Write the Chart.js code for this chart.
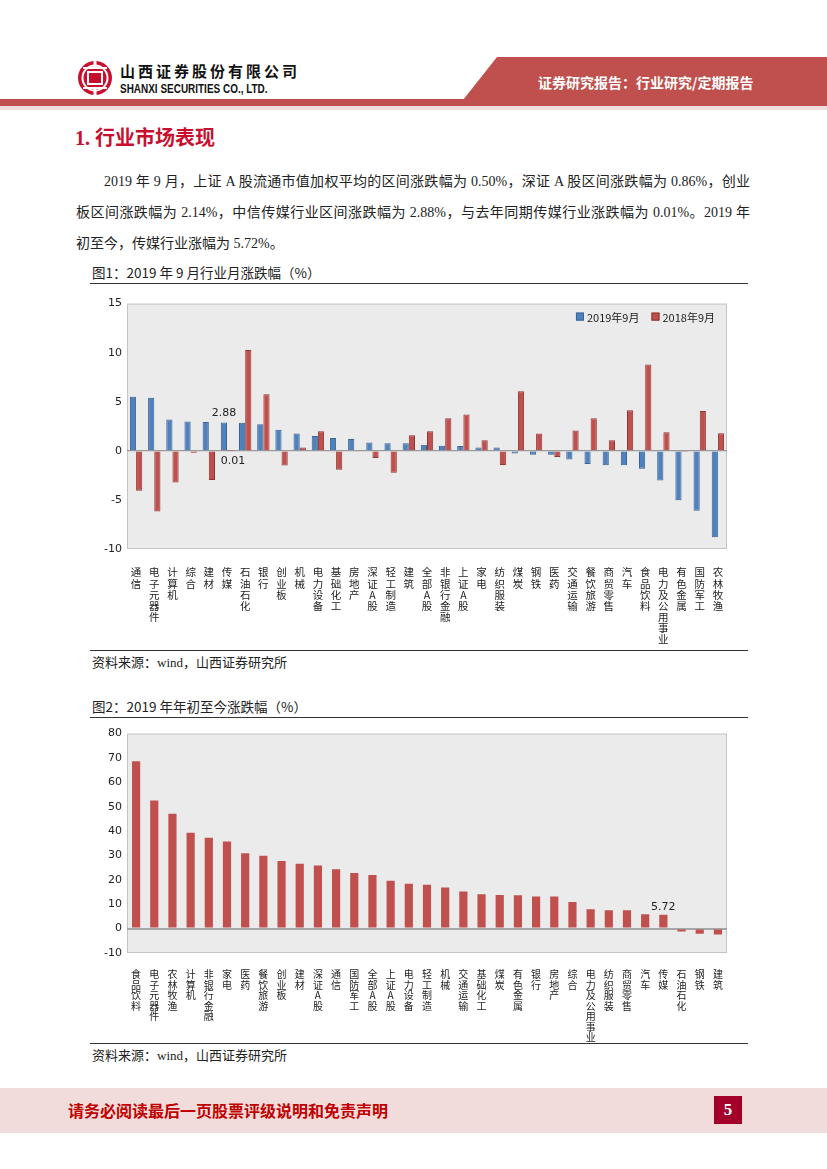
<!DOCTYPE html>
<html>
<head>
<meta charset="utf-8">
<title>行业市场表现</title>
<script src="https://cdn.jsdelivr.net/npm/chart.js"></script>
<style>
    body {
        margin: 0;
        padding: 0;
        background: #fff;
        font-family: "Liberation Serif", "Noto Sans CJK SC", serif;
        color: #222;
    }
    .page {
        position: relative;
        width: 827px;
        height: 1169px;
        overflow: hidden;
    }
    .abs { position: absolute; }
    .logo-cn {
        left: 120px; top: 62px;
        font-family: "Noto Sans CJK SC", sans-serif;
        font-weight: bold; font-size: 15px; letter-spacing: 3px;
        line-height: 18px; color: #111;
    }
    .logo-en {
        left: 120px; top: 82px;
        font-family: "Liberation Sans", Arial, sans-serif;
        font-weight: bold; font-size: 12px; line-height: 14px; color: #111;
        transform: scaleX(0.83); transform-origin: left center;
        white-space: nowrap;
    }
    .banner-text {
        left: 538px; top: 72px;
        font-family: "Noto Sans CJK SC", sans-serif;
        font-weight: bold; font-size: 14px; line-height: 20px; color: #fff;
        white-space: nowrap;
    }
    h1 {
        position: absolute; margin: 0;
        left: 75px; top: 125px;
        font-family: "Liberation Serif", "Noto Sans CJK SC", serif;
        font-size: 20px; line-height: 26px; font-weight: bold;
        color: #c8102e;
    }
    .para {
        left: 76px; width: 674px;
        font-size: 14px; line-height: 31px; white-space: nowrap;
    }
    .para .j { text-align: justify; text-align-last: justify; white-space: normal; }
    .fig-title {
        left: 92px; font-family: "Noto Sans CJK SC", sans-serif;
        font-size: 13.5px; line-height: 18px; white-space: nowrap;
    }
    .rule { left: 90px; width: 658px; height: 0; border-top: 1.5px solid #333; }
    .source { left: 92px; font-size: 13px; line-height: 18px; white-space: nowrap; }
    canvas { position: absolute; }
    .footer {
        left: 0; top: 1088px; width: 827px; height: 45px; background: #f2dcdb;
    }
    .footer-text {
        left: 68px; top: 1100px;
        font-family: "Noto Sans CJK SC", sans-serif;
        font-weight: bold; font-size: 16px; line-height: 20px; color: #c00000;
        white-space: nowrap;
    }
    .pageno {
        left: 714px; top: 1096px; width: 28px; height: 28px;
        background: #a3002a; color: #fff; text-align: center;
        font-family: "Liberation Serif", serif; font-weight: bold;
        font-size: 17px; line-height: 28px;
    }
</style>
</head>
<body>
<div class="page">
    <!-- header -->
    <svg class="abs" style="left:0;top:0" width="827" height="112">
        <polygon points="497,57 827,57 827,100 463,100" fill="#c0504d"/>
        <rect x="0" y="99" width="827" height="7" fill="#c0504d"/>
        <rect x="0" y="106" width="827" height="4" fill="#f2dcdb"/>
        <circle cx="95" cy="78" r="17" fill="#c8102e"/>
        <circle cx="95" cy="78" r="12.5" fill="none" stroke="#fff" stroke-width="2"/>
        <rect x="93.5" y="60" width="3" height="8" fill="#fff"/>
        <rect x="93.5" y="88" width="3" height="8" fill="#fff"/>
        <rect x="88" y="72" width="14" height="12" fill="none" stroke="#fff" stroke-width="2"/>
        <rect x="83" y="67" width="24" height="2" fill="#fff"/>
        <rect x="83" y="87" width="24" height="2" fill="#fff"/>
    </svg>
    <div class="abs logo-cn">山西证券股份有限公司</div>
    <div class="abs logo-en">SHANXI SECURITIES CO., LTD.</div>
    <div class="abs banner-text">证券研究报告：行业研究/定期报告</div>

    <h1>1. 行业市场表现</h1>

    <div class="abs para" style="top:166px">
        <div class="j" style="text-indent:28px">2019 年 9 月，上证 A 股流通市值加权平均的区间涨跌幅为 0.50%，深证 A 股区间涨跌幅为 0.86%，创业</div>
        <div class="j">板区间涨跌幅为 2.14%，中信传媒行业区间涨跌幅为 2.88%，与去年同期传媒行业涨跌幅为 0.01%。2019 年</div>
        <div>初至今，传媒行业涨幅为 5.72%。</div>
    </div>

    <div class="abs fig-title" style="top:263px">图1：2019 年 9 月行业月涨跌幅（%）</div>
    <div class="abs rule" style="top:283px"></div>
    <canvas id="monthChart" width="650" height="355" style="left:90px;top:292px"></canvas>
    <div class="abs rule" style="top:650px"></div>
    <div class="abs source" style="top:654px">资料来源：wind，山西证券研究所</div>

    <div class="abs fig-title" style="top:697px">图2：2019 年年初至今涨跌幅（%）</div>
    <div class="abs rule" style="top:717px"></div>
    <canvas id="ytdChart" width="650" height="320" style="left:90px;top:722px"></canvas>
    <div class="abs rule" style="top:1043px"></div>
    <div class="abs source" style="top:1047px">资料来源：wind，山西证券研究所</div>

    <div class="abs footer"></div>
    <div class="abs footer-text">请务必阅读最后一页股票评级说明和免责声明</div>
    <div class="abs pageno">5</div>
</div>

<script>
    // 图1：9月行业月涨跌幅
    const monthCats = ['通信', '电子元器件', '计算机', '综合', '建材', '传媒', '石油石化', '银行', '创业板', '机械',
        '电力设备', '基础化工', '房地产', '深证A股', '轻工制造', '建筑', '全部A股', '非银行金融', '上证A股', '家电',
        '纺织服装', '煤炭', '钢铁', '医药', '交通运输', '餐饮旅游', '商贸零售', '汽车', '食品饮料', '电力及公用事业',
        '有色金属', '国防军工', '农林牧渔'];
    const sep2019 = [5.5, 5.4, 3.2, 3.0, 2.93, 2.88, 2.85, 2.7, 2.14, 1.77,
        1.5, 1.3, 1.2, 0.86, 0.77, 0.77, 0.63, 0.53, 0.50, 0.33,
        0.33, -0.27, -0.4, -0.4, -0.87, -1.33, -1.47, -1.47, -1.83, -3.03,
        -5.03, -6.1, -8.8];
    const sep2018 = [-4.07, -6.17, -3.23, -0.2, -2.97, 0.01, 10.27, 5.77, -1.5, 0.33,
        2.0, -1.93, -0.1, -0.73, -2.23, 1.6, 2.0, 3.33, 3.7, 1.07,
        -1.43, 6.07, 1.77, -0.63, 2.07, 3.33, 1.07, 4.13, 8.8, 1.9,
        -0.13, 4.07, 1.8];
    const monthTicks = { min: -10, max: 15, step: 5 };

    // 图2：年初至今涨跌幅
    const ytdCats = ['食品饮料', '电子元器件', '农林牧渔', '计算机', '非银行金融', '家电', '医药', '餐饮旅游', '创业板', '建材',
        '深证A股', '通信', '国防军工', '全部A股', '上证A股', '电力设备', '轻工制造', '机械', '交通运输', '基础化工',
        '煤炭', '有色金属', '银行', '房地产', '综合', '电力及公用事业', '纺织服装', '商贸零售', '汽车', '传媒',
        '石油石化', '钢铁', '建筑'];
    const ytd2019 = [68.7, 52.6, 47.1, 39.3, 37.3, 35.7, 30.9, 29.9, 27.7, 26.6,
        25.9, 24.4, 22.8, 22.0, 19.6, 18.4, 18.0, 16.9, 15.2, 14.1,
        13.8, 13.7, 13.2, 13.2, 10.9, 7.9, 7.5, 7.5, 5.9, 5.72,
        -1.2, -2.1, -2.4];
    const ytdTicks = { min: -10, max: 80, step: 10 };

    // vertical labels, one character per line
    const stack = s => Array.from(s);

    const plotBg = {
        id: 'plotBg',
        beforeDraw(chart) {
            const a = chart.chartArea, c = chart.ctx;
            c.save();
            c.fillStyle = '#ebebeb';
            c.fillRect(a.left, a.top, a.right - a.left, a.bottom - a.top);
            c.strokeStyle = '#c4c4c4';
            c.lineWidth = 1;
            c.strokeRect(a.left + 0.5, a.top + 0.5, a.right - a.left - 1, a.bottom - a.top - 1);
            c.restore();
        }
    };

    // legend inside the plot, top right
    const innerLegend = {
        id: 'innerLegend',
        afterDraw(chart) {
            const a = chart.chartArea, c = chart.ctx;
            const y = a.top + 13;
            let x = a.right - 12;
            c.save();
            c.font = '11px "Noto Sans CJK SC"';
            c.textBaseline = 'middle';
            c.textAlign = 'left';
            const sets = chart.data.datasets.slice().reverse();
            sets.forEach(ds => {
                const w = c.measureText(ds.label).width;
                x -= w;
                c.fillStyle = '#222';
                c.fillText(ds.label, x, y + 1);
                x -= 11;
                c.fillStyle = ds.backgroundColor;
                c.fillRect(x, y - 4, 8, 8);
                c.strokeStyle = ds.borderColor;
                c.lineWidth = 1;
                c.strokeRect(x + 0.5, y - 3.5, 7, 7);
                x -= 12;
            });
            c.restore();
        }
    };

    // value labels, e.g. 传媒
    function valueLabels(list) {
        return {
            id: 'valueLabels',
            afterDatasetsDraw(chart) {
                const c = chart.ctx;
                c.save();
                c.font = '11px "DejaVu Sans"';
                c.fillStyle = '#222';
                c.textAlign = 'center';
                c.textBaseline = 'middle';
                list.forEach(l => {
                    const bar = chart.getDatasetMeta(l.ds).data[l.i];
                    c.fillText(l.text, bar.x + l.dx, bar.y + l.dy);
                });
                c.restore();
            }
        };
    }

    const tickFont = { family: '"DejaVu Sans"', size: 11 };

    new Chart(document.getElementById('monthChart'), {
        type: 'bar',
        data: {
            labels: monthCats.map(stack),
            datasets: [
                { label: '2019年9月', data: sep2019, backgroundColor: '#4f81bd', borderColor: '#3a6494', borderWidth: 1,
                  categoryPercentage: 0.68, barPercentage: 1.0 },
                { label: '2018年9月', data: sep2018, backgroundColor: '#c0504d', borderColor: '#8e3532', borderWidth: 1,
                  categoryPercentage: 0.68, barPercentage: 1.0 }
            ]
        },
        options: {
            responsive: false,
            animation: false,
            layout: { padding: { top: 7, right: 13, left: 0, bottom: 0 } },
            plugins: { legend: { display: false }, tooltip: { enabled: false } },
            scales: {
                x: {
                    grid: { display: false },
                    border: { display: false },
                    ticks: { autoSkip: false, maxRotation: 0, minRotation: 0, padding: 10, color: '#222',
                             font: { family: '"Noto Sans CJK SC"', size: 10.5, lineHeight: 1.05 } },
                    afterFit: s => { s.height = 98; }
                },
                y: {
                    min: monthTicks.min, max: monthTicks.max,
                    grid: { drawTicks: false, lineWidth: 1.2,
                            color: ctx => ctx.tick && ctx.tick.value === 0 ? '#9a9a9a' : 'transparent' },
                    border: { display: false },
                    ticks: { stepSize: monthTicks.step, padding: 5, color: '#222', font: tickFont },
                    afterFit: s => { s.width = 37; }
                }
            }
        },
        plugins: [plotBg, innerLegend, valueLabels([
            { ds: 0, i: 5, text: '2.88', dx: 0, dy: -9 },
            { ds: 1, i: 5, text: '0.01', dx: 3, dy: 10 }
        ])]
    });

    new Chart(document.getElementById('ytdChart'), {
        type: 'bar',
        data: {
            labels: ytdCats.map(stack),
            datasets: [
                { label: '2019年初至今', data: ytd2019, backgroundColor: '#c0504d', borderWidth: 0,
                  categoryPercentage: 1.0, barPercentage: 0.45 }
            ]
        },
        options: {
            responsive: false,
            animation: false,
            layout: { padding: { top: 8, right: 13, left: 0, bottom: 0 } },
            plugins: { legend: { display: false }, tooltip: { enabled: false } },
            scales: {
                x: {
                    grid: { display: false },
                    border: { display: false },
                    ticks: { autoSkip: false, maxRotation: 0, minRotation: 0, padding: 8, color: '#222',
                             font: { family: '"Noto Sans CJK SC"', size: 10, lineHeight: 1.05 } },
                    afterFit: s => { s.height = 89; }
                },
                y: {
                    min: ytdTicks.min, max: ytdTicks.max,
                    grid: { drawTicks: false, lineWidth: 2,
                            color: ctx => ctx.tick && ctx.tick.value === 0 ? '#a6a6a6' : 'transparent' },
                    border: { display: false },
                    ticks: { stepSize: ytdTicks.step, padding: 5, color: '#222', font: tickFont },
                    afterFit: s => { s.width = 37; }
                }
            }
        },
        plugins: [plotBg, valueLabels([
            { ds: 0, i: 29, text: '5.72', dx: 0, dy: -8 }
        ])]
    });
</script>
</body>
</html>
